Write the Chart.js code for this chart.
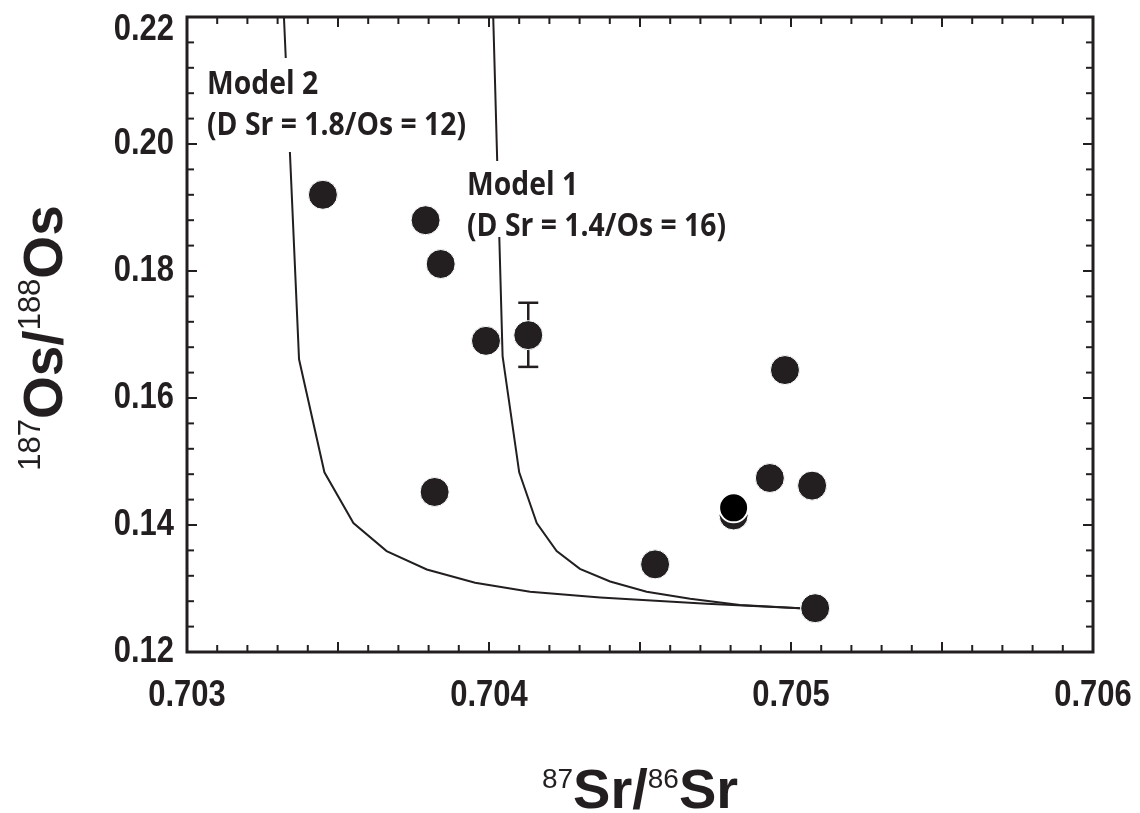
<!DOCTYPE html>
<html>
<head>
<meta charset="utf-8">
<script src="https://cdn.jsdelivr.net/npm/chart.js@4.4.0/dist/chart.umd.min.js"></script>
<style>
  html, body { margin: 0; padding: 0; background: #fff; }
</style>
</head>
<body>
<canvas id="grafico" width="1140" height="813"></canvas>
<script>
// amostras: 87Sr/86Sr (x) e 187Os/188Os (y)
const srAmostras = [0.70345, 0.70379, 0.70384, 0.70399, 0.70413, 0.70382, 0.70498, 0.70493, 0.70507, 0.70481, 0.70455, 0.70508];
const osAmostras = [0.1920, 0.1880, 0.1811, 0.1690, 0.1699, 0.1452, 0.1644, 0.1474, 0.1462, 0.1415, 0.1338, 0.1269];
// amostra sobreposta, em preto
const srPreto = [0.70481];
const osPreto = [0.1427];
// barra de erro
const srErro = [0.70413];
const osErroMin = [0.1649];
const osErroMax = [0.1750];

// curvas de mistura
const srModelo1 = [0.704014, 0.704045, 0.704100, 0.704158, 0.704224, 0.704301, 0.704401, 0.704522, 0.704666, 0.704831, 0.705030];
const osModelo1 = [0.2200, 0.1666, 0.1483, 0.1403, 0.1359, 0.1331, 0.1311, 0.1295, 0.1284, 0.1274, 0.1269];
const srModelo2 = [0.703321, 0.703371, 0.703455, 0.703551, 0.703661, 0.703794, 0.703954, 0.704136, 0.704368, 0.704721, 0.705030];
const osModelo2 = [0.2200, 0.1661, 0.1483, 0.1403, 0.1359, 0.1330, 0.1309, 0.1295, 0.1286, 0.1276, 0.1269];

const xTicks = [0.703, 0.704, 0.705, 0.706];
const yTicks = [0.12, 0.14, 0.16, 0.18, 0.20, 0.22];

const tinta = "#231f20";
const fonteNum = "'Liberation Sans', Arial, sans-serif";
const fonteTitulo = "'Liberation Sans', Arial, sans-serif";
const fonteNota = "'Open Sans', 'Noto Sans', sans-serif";

function pares(xs, ys) {
  return xs.map((x, i) => ({ x: x, y: ys[i] }));
}

function linha(ctx, x1, y1, x2, y2) {
  ctx.beginPath();
  ctx.moveTo(x1, y1);
  ctx.lineTo(x2, y2);
  ctx.stroke();
}

// barra de erro (antes dos pontos)
const erroPlugin = {
  id: "erro",
  beforeDatasetsDraw(chart) {
    const { ctx, scales } = chart;
    ctx.save();
    ctx.strokeStyle = tinta;
    ctx.lineWidth = 2.5;
    srErro.forEach((sr, i) => {
      const px = scales.x.getPixelForValue(sr);
      const pMin = scales.y.getPixelForValue(osErroMin[i]);
      const pMax = scales.y.getPixelForValue(osErroMax[i]);
      linha(ctx, px, pMin, px, pMax);
      linha(ctx, px - 10, pMin, px + 10, pMin);
      linha(ctx, px - 10, pMax, px + 10, pMax);
    });
    ctx.restore();
  }
};

// textos dos modelos
function nota(ctx, linhas, x, y, caixa) {
  ctx.fillStyle = "#fff";
  ctx.fillRect(caixa[0], caixa[1], caixa[2], caixa[3]);
  ctx.fillStyle = tinta;
  ctx.font = "bold 32px " + fonteNota;
  ctx.textBaseline = "alphabetic";
  ctx.textAlign = "left";
  const sx = 259 / ctx.measureText(linhas[1]).width;
  ctx.save();
  ctx.translate(x, 0);
  ctx.scale(sx, 1);
  ctx.fillText(linhas[0], 0, y);
  ctx.fillText(linhas[1], 0, y + 41);
  ctx.restore();
}

const notasPlugin = {
  id: "notas",
  afterDatasetsDraw(chart) {
    const ctx = chart.ctx;
    ctx.save();
    nota(ctx, ["Model 2", "(D Sr = 1.8/Os = 12)"], 207, 94, [204, 58, 268, 94]);
    nota(ctx, ["Model 1", "(D Sr = 1.4/Os = 16)"], 467, 195, [462, 161, 272, 76]);
    ctx.restore();
  }
};

// titulo com sobrescritos
function tituloIsotopo(ctx, partes, tamGrande, tamPeq, subida) {
  let total = 0;
  partes.forEach(p => {
    ctx.font = p.sup ? tamPeq + "px " + fonteTitulo : "bold " + tamGrande + "px " + fonteTitulo;
    p.w = ctx.measureText(p.t).width;
    total += p.w;
  });
  let x = -total / 2;
  partes.forEach(p => {
    ctx.font = p.sup ? tamPeq + "px " + fonteTitulo : "bold " + tamGrande + "px " + fonteTitulo;
    ctx.fillText(p.t, x, p.sup ? -subida : 0);
    x += p.w;
  });
}

// rotulos comprimidos na horizontal
function rotulo(ctx, texto, x, y, alinhar) {
  ctx.save();
  ctx.translate(x, y);
  ctx.scale(0.86, 1);
  ctx.textAlign = alinhar;
  ctx.fillText(texto, 0, 0);
  ctx.restore();
}

const molduraPlugin = {
  id: "moldura",
  afterDraw(chart) {
    const { ctx, chartArea: a, scales } = chart;
    ctx.save();
    ctx.strokeStyle = tinta;
    ctx.lineWidth = 2;
    for (let i = 1; i < 30; i++) {
      const px = scales.x.getPixelForValue(0.703 + i * 0.0001);
      const len = i % 5 === 0 ? 10 : 7;
      linha(ctx, px, a.bottom, px, a.bottom - len);
      linha(ctx, px, a.top, px, a.top + len);
    }
    for (let i = 1; i < 25; i++) {
      const py = scales.y.getPixelForValue(0.12 + i * 0.004);
      const len = i % 5 === 0 ? 10 : 7;
      linha(ctx, a.left, py, a.left + len, py);
      linha(ctx, a.right, py, a.right - len, py);
    }
    ctx.lineWidth = 3;
    ctx.strokeRect(a.left, a.top, a.right - a.left, a.bottom - a.top);

    // numeros dos eixos
    ctx.fillStyle = tinta;
    ctx.font = "bold 36px " + fonteNum;
    ctx.textBaseline = "middle";
    xTicks.forEach(v => {
      rotulo(ctx, v.toFixed(3), scales.x.getPixelForValue(v), 696, "center");
    });
    yTicks.forEach(v => {
      const py = Math.max(scales.y.getPixelForValue(v), a.top + 13);
      rotulo(ctx, v.toFixed(2), a.left - 13, py, "right");
    });

    ctx.textAlign = "left";
    ctx.textBaseline = "alphabetic";
    ctx.save();
    ctx.translate((a.left + a.right) / 2, 808);
    tituloIsotopo(ctx, [{ t: "87", sup: true }, { t: "Sr/", sup: false }, { t: "86", sup: true }, { t: "Sr", sup: false }], 56, 28, 20);
    ctx.restore();
    ctx.save();
    ctx.translate(62, 338);
    ctx.rotate(-Math.PI / 2);
    tituloIsotopo(ctx, [{ t: "187", sup: true }, { t: "Os/", sup: false }, { t: "188", sup: true }, { t: "Os", sup: false }], 55, 31, 22);
    ctx.restore();
    ctx.restore();
  }
};

const semPadding = s => { s.paddingLeft = 0; s.paddingRight = 0; s.paddingTop = 0; s.paddingBottom = 0; };

new Chart(document.getElementById("grafico").getContext("2d"), {
  type: "scatter",
  data: {
    datasets: [
      {
        label: "Model 1",
        data: pares(srModelo1, osModelo1),
        showLine: true,
        borderColor: tinta,
        borderWidth: 2,
        pointRadius: 0,
        tension: 0,
        order: 2
      },
      {
        label: "Model 2",
        data: pares(srModelo2, osModelo2),
        showLine: true,
        borderColor: tinta,
        borderWidth: 2,
        pointRadius: 0,
        tension: 0,
        order: 2
      },
      {
        label: "Amostras",
        data: pares(srAmostras, osAmostras),
        backgroundColor: tinta,
        borderColor: "#fff",
        borderWidth: 1,
        pointRadius: 14.5,
        order: 1
      },
      {
        label: "Amostra",
        data: pares(srPreto, osPreto),
        backgroundColor: "#000",
        borderColor: "#fff",
        borderWidth: 2,
        pointRadius: 14.5,
        order: 0
      }
    ]
  },
  options: {
    responsive: false,
    animation: false,
    devicePixelRatio: 1,
    layout: { padding: { top: 17, right: 47, left: 0, bottom: 0 } },
    plugins: {
      legend: { display: false },
      tooltip: { enabled: false }
    },
    scales: {
      x: {
        type: "linear",
        min: 0.703,
        max: 0.706,
        afterBuildTicks: s => { s.ticks = xTicks.map(v => ({ value: v })); },
        afterFit: s => { s.height = 161; semPadding(s); },
        grid: { display: false, drawTicks: false },
        border: { display: false },
        ticks: { display: false }
      },
      y: {
        type: "linear",
        min: 0.12,
        max: 0.22,
        afterBuildTicks: s => { s.ticks = yTicks.map(v => ({ value: v })); },
        afterFit: s => { s.width = 187; semPadding(s); },
        grid: { display: false, drawTicks: false },
        border: { display: false },
        ticks: { display: false }
      }
    }
  },
  plugins: [erroPlugin, notasPlugin, molduraPlugin]
});
</script>
</body>
</html>
